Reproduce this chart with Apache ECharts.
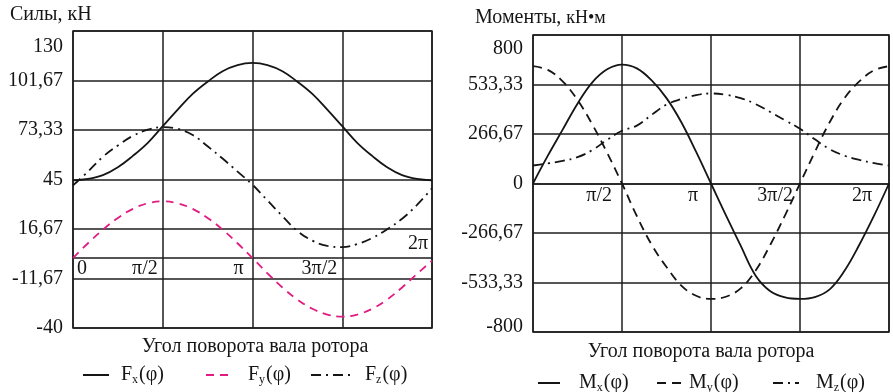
<!DOCTYPE html>
<html>
<head>
<meta charset="utf-8">
<script src="https://cdn.jsdelivr.net/npm/echarts@6/dist/echarts.min.js"></script>
<style>
html, body { margin: 0; padding: 0; background: #fff; }
#chart { width: 893px; height: 392px; }
</style>
</head>
<body>
<div id="chart"></div>
<script>
// угол поворота вала, градусы (0 .. 2π)
const angles = [0, 15, 30, 45, 60, 75, 90, 105, 120, 135, 150, 165, 180,
  195, 210, 225, 240, 255, 270, 285, 300, 315, 330, 345, 360];

// силы, кН
const fx = [44.5, 45.3, 47.5, 52, 58.5, 66, 75.5, 85, 94, 101, 107, 110.5, 111.7,
  110.5, 107, 101, 94, 85, 75.5, 66, 58.5, 52, 47.5, 45.3, 44.5];
const fy = [0, 8.5, 16.3, 23, 28.2, 31.4, 32.5, 31.4, 28.2, 23, 16.3, 8.5, 0,
  -8.7, -16.8, -23.7, -29, -32.3, -33.5, -32.3, -29, -23.7, -16.8, -9, -1.5];
const fz = [41.6, 49.5, 58, 64.5, 70, 73.5, 75, 74, 70.5, 64, 57, 49.5, 42,
  33, 24, 15.5, 10, 7, 6.3, 8, 11.5, 16.5, 22.5, 30.5, 40];

// моменты, кН·м
const mx = [0, 150, 290, 430, 545, 615, 640, 620, 555, 460, 330, 170, 0,
  -170, -335, -495, -580, -614, -622, -612, -570, -470, -330, -172, 0];
const my = [632, 612, 550, 450, 318, 165, 0, -175, -330, -450, -550, -605, -622,
  -610, -565, -470, -330, -170, 0, 170, 330, 460, 550, 610, 632];
const mz = [97, 108, 122, 142, 180, 235, 284, 312, 370, 425, 455, 476, 485,
  478, 460, 428, 385, 340, 295, 238, 185, 150, 127, 110, 97];

// подписи осей
const forceTicks = [-40, -11.67, 16.67, 45, 73.33, 101.67, 130];
const forceTickLabels = ['-40', '-11,67', '16,67', '45', '73,33', '101,67', '130'];
const momentTicks = [-800, -533.33, -266.67, 0, 266.67, 533.33, 800];
const momentTickLabels = ['-800', '-533,33', '-266,67', '0', '266,67', '533,33', '800'];
const angleTicks = [0, 90, 180, 270, 360];
const forceAngleLabels = ['0', 'π/2', 'π', '3π/2', '2π'];
const momentAngleLabels = ['', 'π/2', 'π', '3π/2', '2π'];

const FONT = '"Liberation Serif", "Times New Roman", serif';
const INK = '#151515';
const GRIDC = '#1e1e1e';
const PLOT_H = 297;

// стиль (rich) для каждой подписи угла
const forceAngleStyle = ['z', 'a', 'b', 'a', 'up'];
const momentAngleStyle = ['a', 'c', 'd', 'e', 'f'];

function pairs(xs, ys) {
  return xs.map((x, i) => [x, ys[i]]);
}

function tickLabel(ticks, labels, v) {
  const i = ticks.findIndex(t => Math.abs(t - v) < 0.5);
  return i < 0 ? '' : labels[i];
}

function yAxisOf(grid, min, max, ticks, labels, topPad, bottomPad) {
  return {
    type: 'value', gridIndex: grid, min: min, max: max, interval: (max - min) / 6,
    axisLine: { show: false, onZero: false }, axisTick: { show: false },
    splitLine: { lineStyle: { color: GRIDC, width: 1.5 } },
    axisLabel: {
      margin: 10, showMinLabel: true, showMaxLabel: true,
      color: INK, fontFamily: FONT, fontSize: 20,
      formatter: function (v) {
        const t = tickLabel(ticks, labels, v);
        if (Math.abs(v - max) < 0.5) return '{top|' + t + '}';
        if (Math.abs(v - min) < 0.5) return '{bot|' + t + '}';
        return t;
      },
      rich: {
        top: { fontFamily: FONT, fontSize: 20, color: INK, padding: [topPad, 0, 0, 0] },
        bot: { fontFamily: FONT, fontSize: 20, color: INK, padding: [0, 0, bottomPad, 0] }
      }
    }
  };
}

// ось углов проходит через ноль шкалы значений
function xAxisOf(grid, yMin, yMax, labels, styles, rich) {
  return {
    type: 'value', gridIndex: grid, min: 0, max: 360, interval: 90,
    offset: -PLOT_H * (0 - yMin) / (yMax - yMin),
    axisLine: { onZero: false, lineStyle: { color: GRIDC, width: 1.5 } },
    axisTick: { show: false },
    splitLine: { lineStyle: { color: GRIDC, width: 1.5 } },
    axisLabel: {
      margin: 0, align: 'right', verticalAlign: 'middle',
      showMinLabel: true, showMaxLabel: true,
      color: INK, fontFamily: FONT, fontSize: 20,
      formatter: function (v) {
        const i = angleTicks.indexOf(Math.round(v));
        if (i < 0 || !labels[i]) return '';
        return '{' + styles[i] + '|' + labels[i] + '}';
      },
      rich: rich
    }
  };
}

function tok(pad) {
  return { fontFamily: FONT, fontSize: 20, color: INK, padding: pad };
}

function legendItem(name, left, top, iconW, gap) {
  const base = { fontFamily: FONT, fontSize: 20, color: INK };
  return {
    data: [name], left: left, top: top, padding: 0,
    itemWidth: iconW, itemHeight: 14, selectedMode: false,
    itemStyle: { opacity: 0 },
    formatter: n => '{f|' + n[0] + '}{s|' + n.slice(1) + '}{n|(φ)}',
    textStyle: {
      fontFamily: FONT, fontSize: 20, color: INK,
      rich: {
        f: Object.assign({ padding: [0, 0, 0, gap - 5] }, base),
        s: { fontFamily: FONT, fontSize: 12, color: INK, padding: [9, 1, 0, 0] },
        n: base
      }
    }
  };
}

function line(name, grid, data, type, width, color) {
  return {
    name: name, type: 'line', xAxisIndex: grid, yAxisIndex: grid,
    data: data, smooth: 0.4, symbol: 'none', animation: false,
    lineStyle: { color: color || INK, width: width, type: type },
    itemStyle: { color: color || INK }
  };
}

const chart = echarts.init(document.getElementById('chart'));
chart.setOption({
  backgroundColor: '#fff',
  animation: false,
  title: [
    { text: 'Силы, кН', left: 10, top: 5, padding: 0,
      textStyle: { fontFamily: FONT, fontSize: 20, fontWeight: 'normal', color: INK } },
    { text: 'Моменты, {u|кН•м}', left: 475, top: 8, padding: 0,
      textStyle: { fontFamily: FONT, fontSize: 20, fontWeight: 'normal', color: INK,
        rich: { u: { fontFamily: FONT, fontSize: 18, color: INK } } } }
  ],
  grid: [
    { left: 73, top: 31, width: 359, height: PLOT_H, show: true, borderColor: GRIDC, borderWidth: 1.5 },
    { left: 533, top: 35, width: 356, height: PLOT_H, show: true, borderColor: GRIDC, borderWidth: 1.5 }
  ],
  xAxis: [
    xAxisOf(0, -40, 130, forceAngleLabels, forceAngleStyle, {
      z: tok([22, -14, 0, 0]), a: tok([22, 5, 0, 0]), b: tok([22, 9, 0, 0]), up: tok([0, 4, 28, 0])
    }),
    xAxisOf(1, -800, 800, momentAngleLabels, momentAngleStyle, {
      a: tok([24, 10, 0, 0]), c: tok([24, 10, 0, 0]), d: tok([24, 13, 0, 0]),
      e: tok([24, 7, 0, 0]), f: tok([24, 17, 0, 0])
    })
  ],
  yAxis: [
    yAxisOf(0, -40, 130, forceTicks, forceTickLabels, 32, 0),
    yAxisOf(1, -800, 800, momentTicks, momentTickLabels, 28, 10)
  ],
  legend: [
    legendItem('Fx', 82, 365, 26, 12),
    legendItem('Fy', 205, 365, 25, 17),
    legendItem('Fz', 310, 365, 40, 14),
    legendItem('Mx', 537, 373, 22, 19),
    legendItem('My', 656, 373, 27, 5),
    legendItem('Mz', 772, 373, 26, 17)
  ],
  graphic: [
    { type: 'text', x: 255, y: 347,
      style: { text: 'Угол поворота вала ротора', font: '20px ' + FONT, fill: INK,
        align: 'center', verticalAlign: 'middle' } },
    { type: 'text', x: 701, y: 352,
      style: { text: 'Угол поворота вала ротора', font: '20px ' + FONT, fill: INK,
        align: 'center', verticalAlign: 'middle' } }
  ],
  series: [
    line('Fx', 0, pairs(angles, fx), 'solid', 1.8),
    line('Fy', 0, pairs(angles, fy), [8, 6], 1.8, '#e01c82'),
    line('Fz', 0, pairs(angles, fz), [10, 5, 2, 5], 1.8),
    line('Mx', 1, pairs(angles, mx), 'solid', 1.8),
    line('My', 1, pairs(angles, my), [9, 6], 1.8),
    line('Mz', 1, pairs(angles, mz), [10, 5, 2, 5], 1.8)
  ]
});
</script>
</body>
</html>
